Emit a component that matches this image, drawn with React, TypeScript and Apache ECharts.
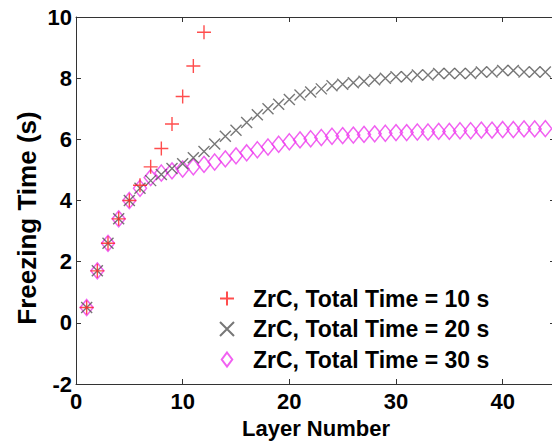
import React, { useEffect, useRef } from "react";
import * as echarts from "echarts";

const layers = [
  1, 2, 3, 4, 5, 6, 7, 8, 9, 10, 11, 12, 13, 14, 15, 16, 17, 18, 19, 20, 21, 22,
  23, 24, 25, 26, 27, 28, 29, 30, 31, 32, 33, 34, 35, 36, 37, 38, 39, 40, 41, 42,
  43, 44,
];
const freeze10 = [0.5, 1.7, 2.6, 3.4, 4.0, 4.5, 5.1, 5.7, 6.5, 7.4, 8.4, 9.5];
const freeze20 = [
  0.5, 1.7, 2.6, 3.4, 4.0, 4.4, 4.65, 4.85, 5.05, 5.2,
  5.4, 5.6, 5.85, 6.1, 6.3, 6.55, 6.8, 7.0, 7.15, 7.3,
  7.45, 7.55, 7.65, 7.75, 7.8, 7.85, 7.9, 7.95, 8.0, 8.05,
  8.05, 8.1, 8.1, 8.15, 8.15, 8.15, 8.15, 8.2, 8.2, 8.25,
  8.25, 8.2, 8.2, 8.2,
];
const freeze30 = [
  0.5, 1.7, 2.6, 3.4, 4.0, 4.4, 4.75, 4.9, 4.97, 5.03,
  5.1, 5.18, 5.26, 5.36, 5.46, 5.56, 5.66, 5.75, 5.84, 5.92,
  5.98, 6.02, 6.06, 6.1, 6.12, 6.14, 6.16, 6.18, 6.2, 6.22,
  6.22, 6.24, 6.24, 6.26, 6.26, 6.28, 6.28, 6.3, 6.3, 6.32,
  6.32, 6.34, 6.34, 6.35,
];
const seriesNames = [
  "ZrC, Total Time = 10 s",
  "ZrC, Total Time = 20 s",
  "ZrC, Total Time = 30 s",
];
const xTitle = "Layer Number";
const yTitle = "Freezing Time (s)";

const FONT = '"Liberation Sans", Arial, sans-serif';

export default function App() {
  const ref = useRef<HTMLDivElement>(null);
  useEffect(() => {
    const chart = echarts.init(ref.current!, null, { renderer: "svg" });
    const pairs = (ys: number[]) => ys.map((y, i) => [layers[i], y]);
    const lineStyle = { color: "#333", width: 1 };
    const labelStyle = {
      fontSize: 22,
      fontWeight: "bold",
      fontFamily: FONT,
      color: "#000",
    };
    chart.setOption({
      animation: false,
      backgroundColor: "#fff",
      grid: {
        left: 76,
        top: 17,
        width: 480,
        height: 367,
        containLabel: false,
        outerBoundsMode: "none",
      },
      legend: {
        orient: "vertical",
        left: 219,
        top: 287,
        padding: 0,
        itemWidth: 42,
        itemHeight: 14,
        itemGap: 7.5,
        selectedMode: false,
        data: seriesNames,
        textStyle: { ...labelStyle, fontSize: 23 },
      },
      xAxis: [
        {
          type: "value",
          min: 0,
          max: 45,
          interval: 10,
          position: "bottom",
          axisLine: { show: true, onZero: false, lineStyle },
          axisTick: { show: true, inside: true, length: 5, lineStyle },
          axisLabel: { ...labelStyle, margin: 6, showMaxLabel: false },
          splitLine: { show: false },
          name: xTitle,
          nameLocation: "middle",
          nameGap: 33,
          nameTextStyle: { ...labelStyle, fontSize: 22 },
        },
        {
          type: "value",
          min: 0,
          max: 45,
          interval: 10,
          position: "top",
          axisLine: { show: true, onZero: false, lineStyle },
          axisTick: { show: true, inside: true, length: 5, lineStyle },
          axisLabel: { show: false },
          splitLine: { show: false },
        },
      ],
      yAxis: [
        {
          type: "value",
          min: -2,
          max: 10,
          interval: 2,
          position: "left",
          axisLine: { show: true, onZero: false, lineStyle },
          axisTick: { show: true, inside: true, length: 5, lineStyle },
          axisLabel: { ...labelStyle, margin: 4 },
          splitLine: { show: false },
        },
        {
          type: "value",
          min: -2,
          max: 10,
          interval: 2,
          position: "right",
          axisLine: { show: true, onZero: false, lineStyle },
          axisTick: { show: true, inside: true, length: 6, lineStyle },
          axisLabel: { show: false },
          splitLine: { show: false },
        },
      ],
      graphic: [
        {
          type: "text",
          x: 27,
          y: 218,
          rotation: Math.PI / 2,
          style: {
            text: yTitle,
            font: `bold 26px ${FONT}`,
            fill: "#000",
            align: "center",
            verticalAlign: "middle",
            textAlign: "center",
            textVerticalAlign: "middle",
          },
        },
      ],
      series: [
        {
          name: seriesNames[0],
          type: "scatter",
          data: pairs(freeze10),
          symbol: "path://M0,7L14,7M7,0L7,14",
          symbolSize: 14,
          itemStyle: { color: "transparent", borderColor: "#ff2020", borderWidth: 1.4 },
          z: 4,
        },
        {
          name: seriesNames[1],
          type: "scatter",
          data: pairs(freeze20),
          symbol: "path://M0,0L10,10M10,0L0,10",
          symbolSize: 11,
          itemStyle: { color: "transparent", borderColor: "#555", borderWidth: 1.4 },
          z: 3,
        },
        {
          name: seriesNames[2],
          type: "scatter",
          data: pairs(freeze30),
          symbol: "path://M6,0L12,8L6,16L0,8Z",
          symbolSize: [13, 16],
          itemStyle: { color: "transparent", borderColor: "#ee38ee", borderWidth: 1.5 },
          z: 2,
        },
      ],
    });
    return () => chart.dispose();
  }, []);
  return (
    <div
      ref={ref}
      style={{ position: "fixed", left: 0, top: 0, width: 552, height: 444 }}
    />
  );
}
